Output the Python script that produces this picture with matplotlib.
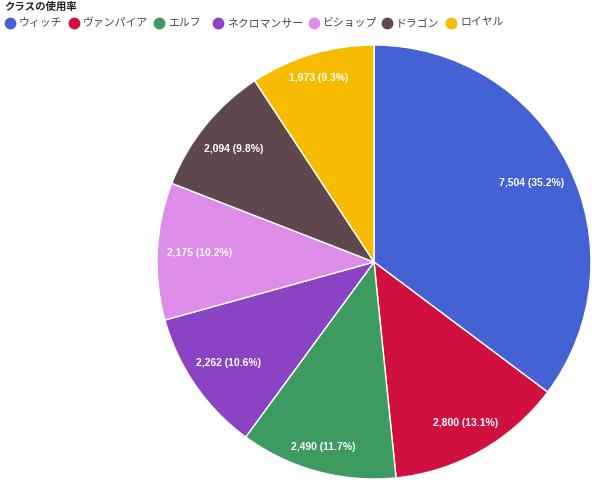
import matplotlib
matplotlib.use("Agg")
import numpy as np
import matplotlib.pyplot as plt
from matplotlib.lines import Line2D

plt.rcParams['font.family'] = ['Noto Sans CJK JP', 'DejaVu Sans']

# class usage data
classes = ["ウィッチ", "ヴァンパイア", "エルフ", "ネクロマンサー", "ビショップ", "ドラゴン", "ロイヤル"]
counts = [7504, 2800, 2490, 2262, 2175, 2094, 1973]
colors = ["#4562d4", "#d0103f", "#3d9a60", "#8a43c3", "#dd8ce8", "#5e484e", "#f7bb00"]

total = sum(counts)
W, H = 600, 487


def fmt(pct):
    v = int(round(pct * total / 100.0))
    return "{:,} ({:.1f}%)".format(v, pct)


fig = plt.figure(figsize=(6, 4.87), dpi=100)
ax = fig.add_axes([0.2617, 0.0164, 0.7233, 0.8912])

wedges, texts, autotexts = ax.pie(
    counts, colors=colors, startangle=90, counterclock=False,
    autopct=fmt, pctdistance=0.8,
    wedgeprops=dict(edgecolor="white", linewidth=1))
for t in autotexts:
    t.set_color("white")
    t.set_fontsize(7.5)
    t.set_fontweight("bold")
    t.set_family(["Liberation Sans", "DejaVu Sans"])
ax.set_xlim(-1, 1)
ax.set_ylim(-1, 1)
ax.set_aspect("equal")

# push each label out along its bisector so the far corner of the text
# sits at ~0.95 of the radius (the way google charts lays them out)
fig.canvas.draw()
r_px = ax.transData.transform((1, 0))[0] - ax.transData.transform((0, 0))[0]
target = 0.955 * r_px
for t in autotexts:
    x, y = t.get_position()
    u = np.array([x, y]) / np.hypot(x, y)
    bb = t.get_window_extent()
    c = np.array([np.sign(u[0]) * bb.width / 2, np.sign(u[1]) * bb.height / 2])
    uc = u @ c
    d = -uc + np.sqrt(uc ** 2 - c @ c + target ** 2)
    t.set_position(tuple(u * d / r_px))

fig.text(4 / W, 1 - 7 / H, "クラスの使用率", fontsize=7.5, fontweight="bold",
         va="center", ha="left", color="#222222")

# legend row, placed by hand like the google chart
dot_x = [10, 74, 159, 218, 314, 387, 451]
for x, c, name in zip(dot_x, colors, classes):
    fig.add_artist(Line2D([x / W], [1 - 23 / H], marker="o", linestyle="",
                          markersize=7.5, markerfacecolor=c, markeredgecolor=c,
                          transform=fig.transFigure))
    fig.text((x + 9) / W, 1 - 23 / H, name, fontsize=7.8, va="center", ha="left",
             color="#444444")

fig.savefig("out.png", dpi=100)
